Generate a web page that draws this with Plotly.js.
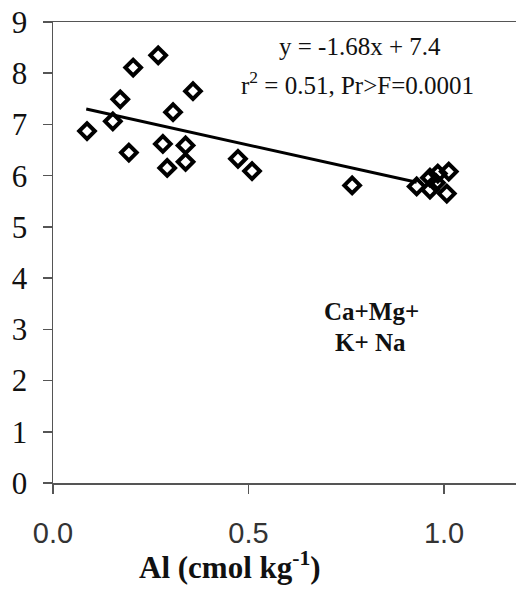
<!DOCTYPE html>
<html>
<head>
<meta charset="utf-8">
<script src="https://cdn.plot.ly/plotly-3.0.1.min.js"></script>
<style>html,body{margin:0;padding:0;background:#fff;}#chart{width:516px;height:594px;}</style>
</head>
<body>
<div id="chart"></div>
<script>
// Observed points: Al (cmol kg-1) vs Ca+Mg+K+Na
const alValues  = [0.087, 0.153, 0.172, 0.194, 0.205, 0.269, 0.281, 0.292, 0.307, 0.339, 0.339, 0.358, 0.473, 0.509, 0.765, 0.930, 0.964, 0.984, 1.012, 0.964, 1.007, 0.979];
const basValues = [6.87, 7.06, 7.49, 6.45, 8.11, 8.35, 6.62, 6.15, 7.24, 6.59, 6.27, 7.65, 6.33, 6.09, 5.81, 5.79, 5.96, 6.04, 6.08, 5.73, 5.65, 5.86];
// Fitted regression line endpoints
const fitX = [0.085, 0.93];
const fitY = [7.30, 5.87];
const xTickVals = [0, 0.5, 1.0];
const xTickText = ["0.0", "0.5", "1.0"];
const yTickVals = [0, 1, 2, 3, 4, 5, 6, 7, 8, 9];

const serif = 'Liberation Serif, Times New Roman, serif';
const traces = [
  {x: fitX, y: fitY, type: 'scatter', mode: 'lines', line: {color: '#000', width: 3}, hoverinfo: 'skip'},
  {x: alValues, y: basValues, type: 'scatter', mode: 'markers',
   marker: {symbol: 'diamond-open', size: 12, color: '#000', line: {color: '#000', width: 4}}}
];

const layout = {
  width: 516, height: 594,
  margin: {l: 53, r: 0, t: 22, b: 111},
  showlegend: false,
  paper_bgcolor: '#fff', plot_bgcolor: '#fff',
  xaxis: {range: [0, 1.184], tickvals: xTickVals, ticktext: xTickText,
    showgrid: false, zeroline: false, showline: true, mirror: true, linecolor: '#555', linewidth: 1.5,
    ticks: 'outside', ticklen: 9, tickwidth: 1.5, tickcolor: '#555', ticklabelstandoff: 15,
    tickfont: {family: 'Liberation Sans, Arial, sans-serif', size: 29, color: '#333'}},
  yaxis: {range: [0, 9], tickvals: yTickVals,
    showgrid: false, zeroline: false, showline: true, linecolor: '#555', linewidth: 1.5,
    ticks: 'outside', ticklen: 9, tickwidth: 1.5, tickcolor: '#555', ticklabelstandoff: 9,
    tickfont: {family: serif, size: 31, color: '#111'}},
  annotations: [
    {xref: 'x', yref: 'y', x: 0.784, y: 8.52, text: 'y = -1.68x + 7.4', showarrow: false,
     font: {family: serif, size: 25, color: '#111'}},
    {xref: 'x', yref: 'y', x: 0.779, y: 7.80, text: 'r<sup>2</sup> = 0.51, Pr&gt;F=0.0001', showarrow: false,
     font: {family: serif, size: 25, color: '#111'}},
    {xref: 'x', yref: 'y', x: 0.815, y: 3.35, text: '<b>Ca+Mg+</b>', showarrow: false,
     font: {family: serif, size: 25, color: '#111'}},
    {xref: 'x', yref: 'y', x: 0.813, y: 2.74, text: '<b>K+ Na</b>', showarrow: false,
     font: {family: serif, size: 25, color: '#111'}},
    {xref: 'x', yref: 'paper', x: 0.452, y: -0.180, yanchor: 'middle', text: '<b>Al (cmol kg<sup>-1</sup>)</b>', showarrow: false,
     font: {family: serif, size: 31, color: '#111'}}
  ]
};

Plotly.newPlot('chart', traces, layout, {displayModeBar: false, staticPlot: true});
</script>
</body>
</html>
